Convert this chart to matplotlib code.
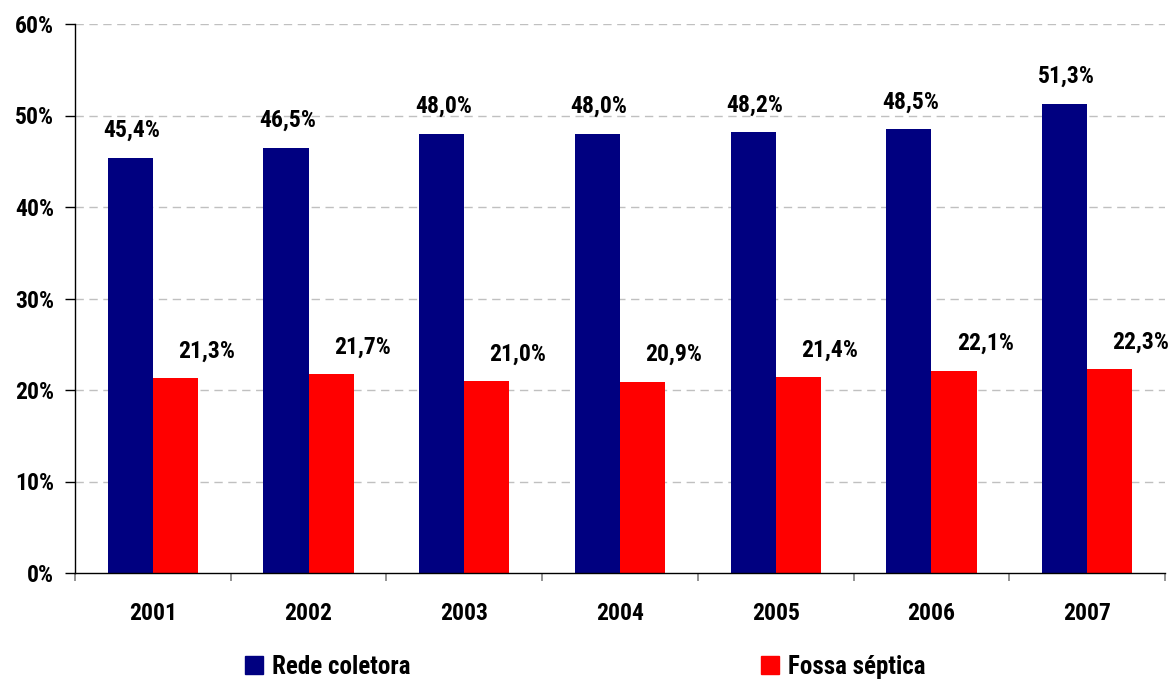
import numpy as np
import matplotlib.pyplot as plt
from matplotlib.patches import Patch

years = ['2001', '2002', '2003', '2004', '2005', '2006', '2007']
rede_coletora = [45.4, 46.5, 48.0, 48.0, 48.2, 48.5, 51.3]
fossa_septica = [21.3, 21.7, 21.0, 20.9, 21.4, 22.1, 22.3]
series_names = ['Rede coletora', 'Fossa séptica']
colors = ['#000080', '#FF0000']

# condensed bold face, close to Arial Narrow
plt.rcParams['font.family'] = ['Roboto Condensed', 'PT Sans Narrow', 'Liberation Sans', 'DejaVu Sans']
plt.rcParams['font.weight'] = 'bold'
FS = 17

fig = plt.figure(figsize=(11.68, 6.79), dpi=100)
ax = fig.add_axes([75 / 1168, 1 - 573 / 679, 1090 / 1168, 549 / 679])

x = np.arange(len(years))
w = 0.29
ax.bar(x - w / 2, rede_coletora, w, color=colors[0], zorder=2)
ax.bar(x + w / 2, fossa_septica, w, color=colors[1], zorder=2)

def fmt(v):
    return f'{v:.1f}'.replace('.', ',') + '%'

for xi, v in zip(x, rede_coletora):
    ax.text(xi - w / 2 + 0.01, v + 1.7, fmt(v), ha='center', va='bottom',
            fontsize=FS, fontweight='bold')
for xi, v in zip(x, fossa_septica):
    ax.text(xi + w / 2 + 0.2, v + 1.7, fmt(v), ha='center', va='bottom',
            fontsize=FS, fontweight='bold')

ax.set_xlim(-0.5, len(years) - 0.5)
ax.set_ylim(0, 60)
ax.set_yticks(range(0, 61, 10))
ax.set_yticklabels([f'{t}%' for t in range(0, 61, 10)], fontsize=FS, fontweight='bold')
for t in range(10, 61, 10):
    ax.axhline(t, color='#c0c0c0', lw=1, ls=(0, (6, 4)), zorder=1)

ax.set_xticks(x)
ax.set_xticklabels(years, fontsize=FS, fontweight='bold')
ax.tick_params(axis='x', length=0, pad=21)
ax.set_xticks(np.arange(-0.5, len(years)), minor=True)
ax.tick_params(axis='x', which='minor', length=6, color='#808080', width=1.2)
ax.tick_params(axis='y', length=7, width=1, pad=8)

for s in ['top', 'right']:
    ax.spines[s].set_visible(False)
ax.spines['left'].set_linewidth(1)
ax.spines['bottom'].set_linewidth(1)

handles = [Patch(color=c) for c in colors]
fig.legend(handles, series_names, loc='center left', bbox_to_anchor=(222 / 1168, 1 - 667 / 679),
           ncol=2, frameon=False, handlelength=0.75, handleheight=0.75,
           handletextpad=0.35, columnspacing=14.0, prop={'weight': 'bold', 'size': 18})

fig.savefig('out.png', dpi=100)
